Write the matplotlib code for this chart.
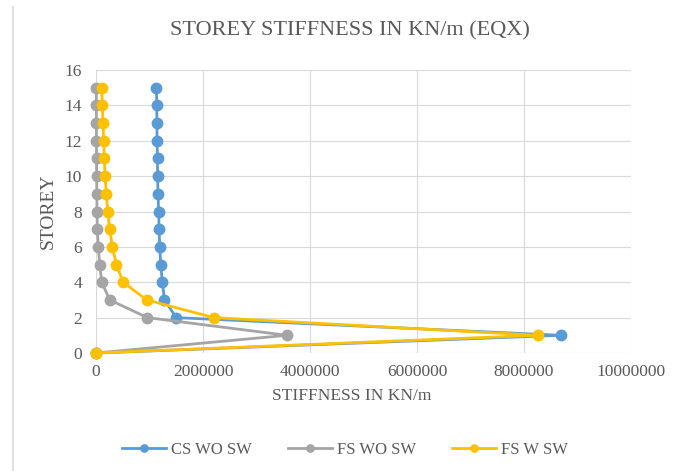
import matplotlib.pyplot as plt
from matplotlib.lines import Line2D
from matplotlib.ticker import FuncFormatter

storey = list(range(0, 16))

# stiffness per storey (KN/m), storey 0 .. 15
cs_wo_sw = [0, 8690000, 1500000, 1280000, 1240000, 1210000, 1190000, 1180000,
            1170000, 1160000, 1150000, 1150000, 1140000, 1140000, 1135000, 1130000]
fs_wo_sw = [0, 3570000, 960000, 257000, 107000, 69000, 44000, 25000,
            18000, 15000, 12000, 10000, 9000, 8000, 7000, 6000]
fs_w_sw = [0, 8260000, 2200000, 950000, 507000, 382000, 307000, 256000,
           219000, 194000, 169000, 156000, 144000, 131000, 119000, 107000]

series = [
    ("CS WO SW", cs_wo_sw, "#5B9BD5"),
    ("FS WO SW", fs_wo_sw, "#A5A5A5"),
    ("FS W SW", fs_w_sw, "#FFC000"),
]

plt.rcParams['font.family'] = ['Liberation Serif', 'DejaVu Serif']
txt = "#595959"

fig = plt.figure(figsize=(6.8, 4.71), dpi=100)
ax = fig.add_axes([96 / 680, 1 - 353 / 471, (631 - 96) / 680, (353 - 70) / 471])

for name, vals, col in series:
    ax.plot(vals, storey, color=col, lw=2.0, marker="o", markersize=7.5,
            label=name, clip_on=False, zorder=3)

ax.set_xlim(0, 10000000)
ax.set_ylim(0, 16)
ax.set_xticks(range(0, 10000001, 2000000))
ax.set_yticks(range(0, 17, 2))
ax.xaxis.set_major_formatter(FuncFormatter(lambda v, p: "%d" % v))
ax.grid(True, color="#D9D9D9", lw=0.8)
ax.set_axisbelow(True)
for s in ax.spines.values():
    s.set_visible(False)
ax.tick_params(length=0, labelsize=12.5, colors=txt)
ax.tick_params(axis="x", pad=8)
ax.tick_params(axis="y", pad=10)

fig.text(350 / 680, 1 - 31 / 471, "STOREY STIFFNESS IN KN/m (EQX)",
         fontsize=16, color=txt, ha="center", va="center")
ax.set_xlabel("STIFFNESS IN KN/m", fontsize=12.5, color=txt)
ax.xaxis.set_label_coords((352 - 96) / (631 - 96), -(396 - 353) / (353 - 70))
ax.xaxis.label.set_va("center")
ax.set_ylabel("STOREY", fontsize=14, color=txt, labelpad=6)

fig.legend(loc="center", bbox_to_anchor=(345 / 680, 1 - 450 / 471), ncol=3,
           frameon=False, fontsize=12, labelcolor=txt, handlelength=2.6,
           markerscale=0.7, columnspacing=2.2, handletextpad=0.3)

# chart frame edge on the left
fig.add_artist(Line2D([13 / 680, 13 / 680], [0, 1 - 7 / 471],
                      color="#D9D9D9", lw=1.2))

fig.savefig("out.png", dpi=100)
